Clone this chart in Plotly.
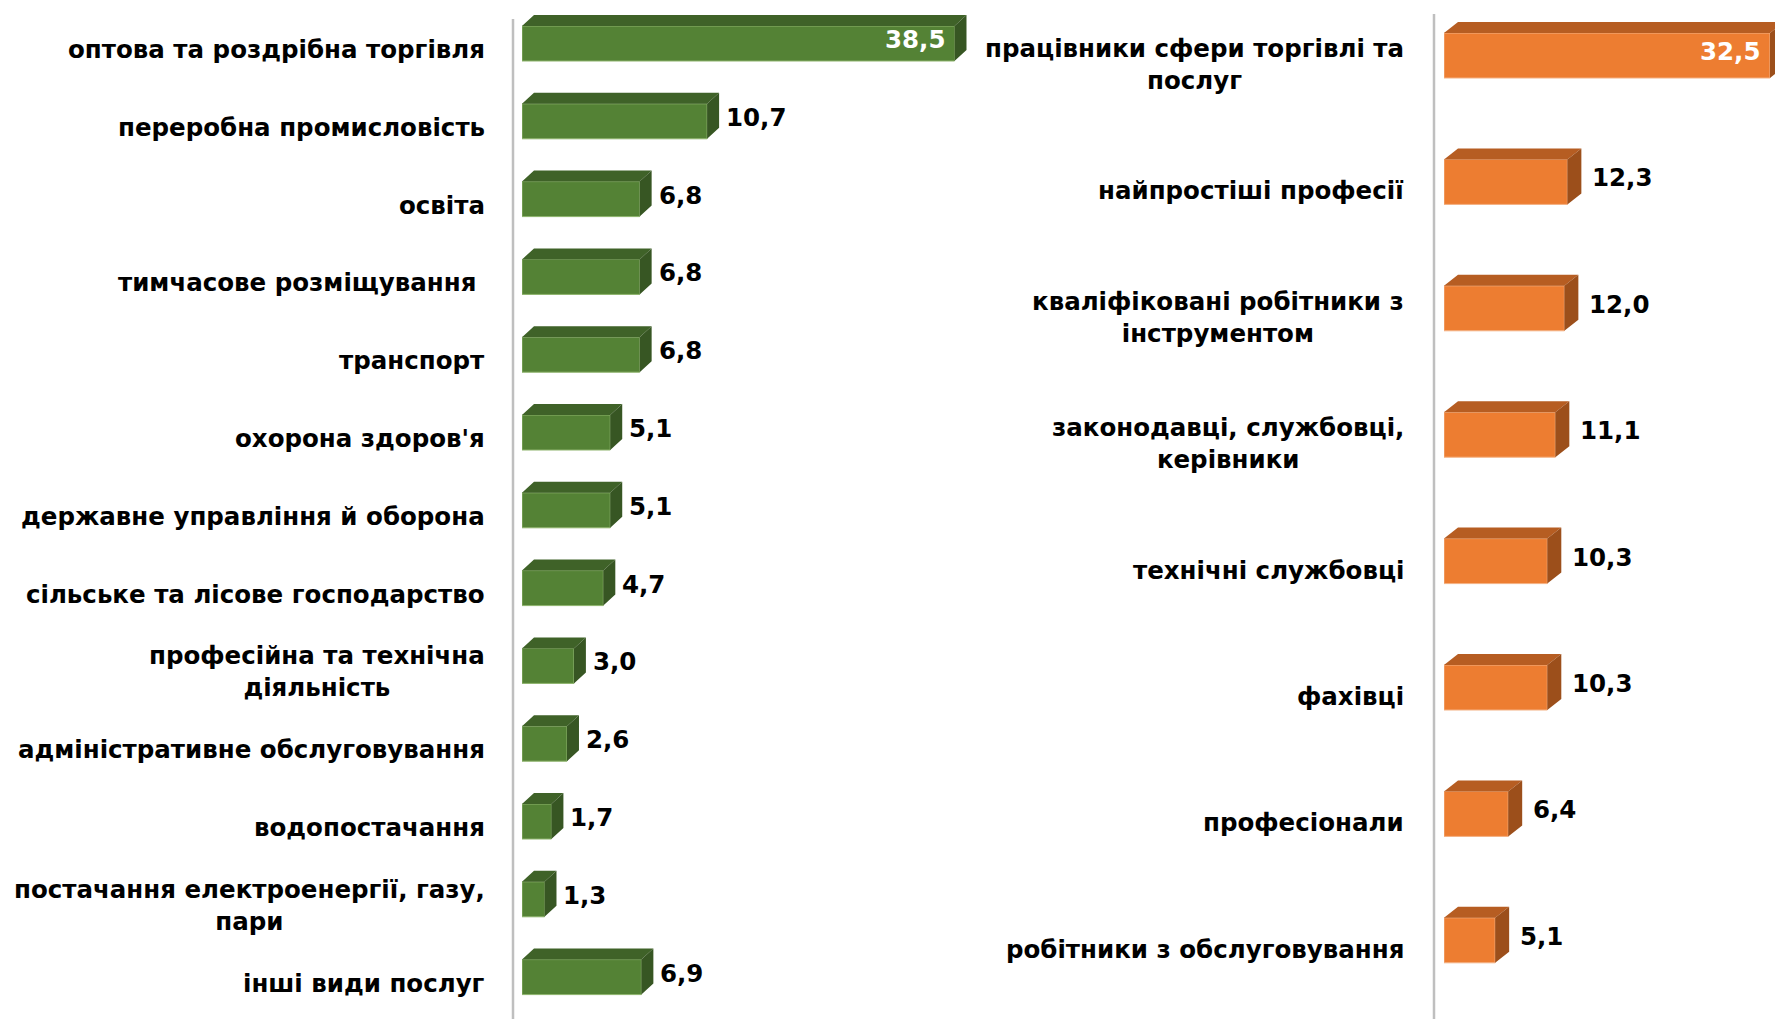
import plotly.graph_objects as go

# --- data -------------------------------------------------------------
left_categories = [
    "оптова та роздрібна торгівля",
    "переробна промисловість",
    "освіта",
    "тимчасове розміщування\u00a0",
    "транспорт",
    "охорона здоров'я",
    "державне управління й оборона",
    "сільське та лісове господарство",
    "професійна та технічна<br>діяльність",
    "адміністративне обслуговування",
    "водопостачання",
    "постачання електроенергії, газу,<br>пари",
    "інші види послуг",
]
left_values = [38.5, 10.7, 6.8, 6.8, 6.8, 5.1, 5.1, 4.7, 3.0, 2.6, 1.7, 1.3, 6.9]

right_categories = [
    "працівники сфери торгівлі та<br>послуг",
    "найпростіші професії",
    "кваліфіковані робітники з<br>інструментом",
    "законодавці, службовці,<br>керівники",
    "технічні службовці",
    "фахівці",
    "професіонали",
    "робітники з обслуговування",
]
right_values = [32.5, 12.3, 12.0, 11.1, 10.3, 10.3, 6.4, 5.1]

# --- layout constants ---------------------------------------------------
# the page body has an 8px margin, so the figure is made smaller and every
# pixel position is measured from that corner
OFF = 8
W, H = 1783 - OFF, 1019 - OFF
FONT = "DejaVu Sans"
FS = 24.5


def px(x):
    return (x - OFF) / W


LEFT_AXIS_MAX = 25.0          # bars longer than this are cut, like in the source
LEFT_RANGE = [0, 26.5]
RIGHT_RANGE = [0, 33.8]
LEFT_DOMAIN = [px(522), px(522 + 26.5 * 17.3)]
RIGHT_DOMAIN = [px(1444), 1.0]


# y ranges so category i sits at a given pixel row
def y_range(first_px, step_px):
    top = -(first_px - OFF) / step_px
    return [top + H / step_px, top]


LEFT_Y = y_range(43.5, 77.8)
RIGHT_Y = y_range(55.5, 126.4)
LEFT_W = 35 / 77.8
RIGHT_W = 45 / 126.4

green = dict(front="#548235", top="#3F6228", side="#375623", rim="#8DB36C")
orange = dict(front="#ED7D31", top="#B65D22", side="#9C4F1B", rim="#F4B183")


def fmt(v):
    return f"{v:.1f}".replace(".", ",")


def panel(fig, cats, vals, xa, ya, xrange, xdomain, yrange, width, colors,
          dx_px, dy_px, cap=None, label_x_paper=0.0, val_shift=20, lab_shift=-6):
    xref = "x" if xa == "xaxis" else "x" + xa[5:]
    yref = "y" if ya == "yaxis" else "y" + ya[5:]
    pos = list(range(len(cats)))
    drawn = [min(v, cap) if cap else v for v in vals]

    px_x = (xdomain[1] - xdomain[0]) * W / (xrange[1] - xrange[0])
    px_y = H / abs(yrange[0] - yrange[1])
    ddx = dx_px / px_x
    ddy = dy_px / px_y

    fig.add_trace(go.Bar(
        x=drawn, y=pos, orientation="h", width=width,
        marker=dict(color=colors["front"], line=dict(color=colors["rim"], width=1)),
        xaxis=xref, yaxis=yref, hoverinfo="skip",
    ))

    top_x, top_y, side_x, side_y = [], [], [], []
    for p, v in zip(pos, drawn):
        yt = p - width / 2
        yb = p + width / 2
        top_x += [0, v, v + ddx, ddx, 0, None]
        top_y += [yt, yt, yt - ddy, yt - ddy, yt, None]
        side_x += [v, v + ddx, v + ddx, v, v, None]
        side_y += [yt, yt - ddy, yb - ddy, yb, yt, None]
    for fx, fy, c in [(top_x, top_y, colors["top"]), (side_x, side_y, colors["side"])]:
        fig.add_trace(go.Scatter(
            x=fx, y=fy, mode="lines", fill="toself", fillcolor=c,
            line=dict(width=0, color=c), xaxis=xref, yaxis=yref, hoverinfo="skip",
        ))

    biggest = max(vals)
    for p, v, d in zip(pos, vals, drawn):
        inside = v == biggest
        fig.add_annotation(
            x=d, y=p, xref=xref, yref=yref, text=fmt(v), showarrow=False,
            xanchor="right" if inside else "left",
            xshift=-8 if inside else val_shift, yshift=4,
            font=dict(family=FONT, size=FS, weight="bold",
                      color="white" if inside else "black"),
        )
    for p, c in zip(pos, cats):
        fig.add_annotation(
            x=label_x_paper, y=p, xref="paper", yref=yref, text=c,
            showarrow=False, xanchor="right", align="center", yshift=lab_shift,
            font=dict(family=FONT, size=FS, weight="bold", color="black"),
        )

    fig.update_layout({
        xa: dict(domain=xdomain, range=xrange, visible=False, fixedrange=True),
        ya: dict(domain=[0, 1], range=yrange, visible=False, fixedrange=True),
    })


fig = go.Figure()
panel(fig, left_categories, left_values, "xaxis", "yaxis", LEFT_RANGE, LEFT_DOMAIN,
      LEFT_Y, LEFT_W, green, 12, 11, cap=LEFT_AXIS_MAX,
      label_x_paper=px(487), val_shift=17, lab_shift=-6)
panel(fig, right_categories, right_values, "xaxis2", "yaxis2", RIGHT_RANGE, RIGHT_DOMAIN,
      RIGHT_Y, RIGHT_W, orange, 14, 11,
      label_x_paper=px(1406), val_shift=23, lab_shift=-9)

# grey vertical axis lines
for xp, y0, y1 in [(px(513), 0.0, 1 - 11 / H), (px(1434), 0.0, 1 - 6 / H)]:
    fig.add_shape(type="line", xref="paper", yref="paper", x0=xp, x1=xp, y0=y0, y1=y1,
                  line=dict(color="#BFBFBF", width=2.5))

fig.update_layout(
    width=W, height=H,
    margin=dict(l=0, r=0, t=0, b=0),
    showlegend=False,
    barmode="overlay",
    plot_bgcolor="white",
    paper_bgcolor="white",
)

fig.write_html("out.html")
